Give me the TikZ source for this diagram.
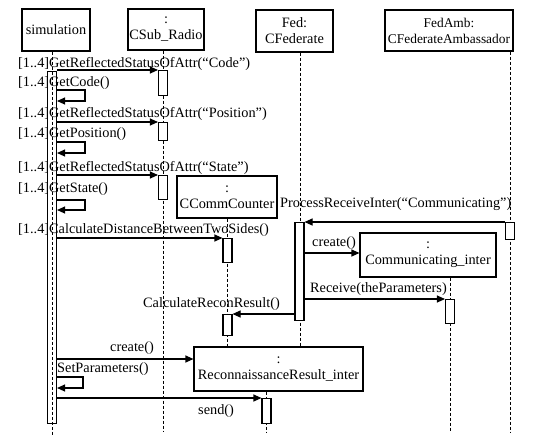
\documentclass[tikz,border=0pt]{standalone}
\usepackage{fontspec}
\setmainfont{Liberation Serif}
\usetikzlibrary{arrows.meta}
\begin{document}
\begin{tikzpicture}[x=1pt,y=-1pt,
  every node/.style={font=\fontsize{14.3}{16}\selectfont, inner sep=0pt},
  obj/.style={draw, line width=1.1pt, fill=white, align=center, inner sep=1pt},
  life/.style={line width=1pt, dash pattern=on 3pt off 2pt},
  act/.style={draw, line width=1.1pt, fill=white, minimum width=9pt, anchor=north},
  msg/.style={line width=1.1pt, -{Triangle[length=8pt,width=7pt]}},
  lbl/.style={anchor=base west},
]
\useasboundingbox (0,0) rectangle (534,445);
% objects
\node[obj, minimum width=68pt, minimum height=42pt] (sim) at (56,30) {simulation};
\node[obj, minimum width=76pt, minimum height=41pt] (csub) at (166,29.5) {:\\CSub\_Radio};
\node[obj, minimum width=77pt, minimum height=42pt] (fed) at (294.5,31) {Fed:\\CFederate};
\node[obj, minimum width=128pt, minimum height=41pt, font=\fontsize{13.4}{16}\selectfont] (amb) at (449,30.5) {FedAmb:\\CFederateAmbassador};
% lifeline ends
\coordinate (simend) at (52,435);
\coordinate (csubend) at (163,432);
\coordinate (fedend) at (300,347);
\coordinate (ambend) at (510,432);
\coordinate (ccend) at (227,347);
\coordinate (commend) at (450,432);
\coordinate (recend) at (266.5,433);
\draw[life] (sim.south -| simend) -- (simend);
\draw[life] (csub.south -| csubend) -- (csubend);
\draw[life] (fed.south -| fedend) -- (fedend);
\draw[life] (amb.south -| ambend) -- (ambend);
% created objects
\node[obj, minimum width=100pt, minimum height=42pt] (cc) at (227,197) {:\\CCommCounter};
\draw[life] (cc.south -| ccend) -- (ccend);
\node[obj, minimum width=136pt, minimum height=44pt] (comm) at (428,255) {:\\Communicating\_inter};
\draw[life] (comm.south -| commend) -- (commend);
\node[obj, minimum width=169pt, minimum height=44pt] (rec) at (278.5,369) {:\\ReconnaissanceResult\_inter};
\draw[life] (rec.south -| recend) -- (recend);
% activations
\node[act, minimum height=352pt, fill=none] (simbar) at (52,71) {};
\node[act, minimum height=25pt] (cs1) at (163,70) {};
\node[act, minimum height=18pt] (cs2) at (163,122) {};
\node[act, minimum height=24pt] (cs3) at (163,175) {};
\node[act, minimum height=24pt] (cc1) at (227.5,238) {};
\node[act, minimum height=21pt] (cc2) at (227.5,314) {};
\node[act, minimum height=98pt] (fedbar) at (299.5,222) {};
\node[act, minimum height=17pt] (ambbar) at (510,222) {};
\node[act, minimum height=24pt] (commbar) at (450,299) {};
\node[act, minimum height=25pt] (recbar) at (266.5,398) {};
% messages
\draw[msg] (simbar.east |- cs1.north) -- (cs1.north west);
\node[lbl] at (18,67) {[1..4]GetReflectedStatusOfAttr(“Code”)};
\node[lbl] at (18,86) {[1..4]GetCode()};
\draw[msg] (simbar.east |- 0,90) -- (85,90) -- (85,101) -- (simbar.east |- 0,101);
\draw[msg] (simbar.east |- cs2.north) -- (cs2.north west);
\node[lbl] at (18,117) {[1..4]GetReflectedStatusOfAttr(“Position”)};
\node[lbl] at (18,137) {[1..4]GetPosition()};
\draw[msg] (simbar.east |- 0,142) -- (85,142) -- (85,153) -- (simbar.east |- 0,153);
\draw[msg] (simbar.east |- cs3.north) -- (cs3.north west);
\node[lbl] at (18,171) {[1..4]GetReflectedStatusOfAttr(“State”)};
\node[lbl] at (18,192) {[1..4]GetState()};
\draw[msg] (simbar.east |- 0,200) -- (85,200) -- (85,210) -- (simbar.east |- 0,210);
\draw[msg] (simbar.east |- cc1.north) -- (cc1.north west);
\node[lbl] at (18,233) {[1..4]CalculateDistanceBetweenTwoSides()};
\draw[msg] (ambbar.north west) -- (fedbar.north east);
\node[lbl] at (280,207) {ProcessReceiveInter(“Communicating”)};
\draw[msg] (fedbar.east |- 0,253) -- (comm.west |- 0,253);
\node[lbl] at (312,246) {create()};
\draw[msg] (fedbar.east |- commbar.north) -- (commbar.north west);
\node[lbl] at (310,292) {Receive(theParameters)};
\draw[msg] (fedbar.west |- cc2.north) -- (cc2.north east);
\node[lbl] at (143,307) {CalculateReconResult()};
\draw[msg] (simbar.east |- 0,359) -- (rec.west |- 0,359);
\node[lbl] at (110,351) {create()};
\node[lbl] at (57,372) {SetParameters()};
\draw[msg] (simbar.east |- 0,377) -- (83,377) -- (83,388) -- (simbar.east |- 0,388);
\draw[msg] (simbar.east |- recbar.north) -- (recbar.north west);
\node[lbl] at (198,414) {send()};
\end{tikzpicture}
\end{document}
